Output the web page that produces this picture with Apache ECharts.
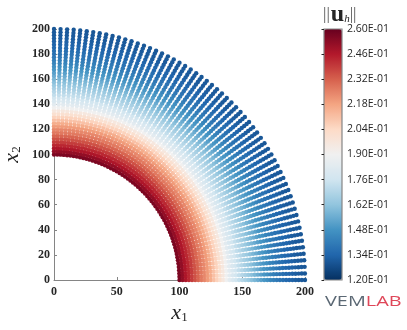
<!DOCTYPE html>
<html><head><meta charset="utf-8">
<style>html,body{margin:0;padding:0;background:#fff}#c{width:407px;height:330px}</style>
<script src="https://cdn.jsdelivr.net/npm/echarts@6/dist/echarts.min.js"></script>
</head><body><div id="c"></div>
<script>
const ringRadii = [100,102.5,105,107.5,110,112.5,115,117.5,120,122.5,125,127.5,130,132.5,135,137.5,140,142.5,145,147.5,150,152.5,155,157.5,160,162.5,165,167.5,170,172.5,175,177.5,180,182.5,185,187.5,190,192.5,195,197.5,200];
const ringValues = [0.256,0.252,0.247,0.243,0.239,0.235,0.231,0.227,0.224,0.220,0.216,0.211,0.206,0.201,0.196,0.190,0.184,0.180,0.177,0.173,0.170,0.167,0.164,0.161,0.158,0.155,0.152,0.149,0.147,0.144,0.142,0.140,0.138,0.137,0.135,0.134,0.133,0.132,0.131,0.131,0.130];
const spokeAngles = [0,1.5,3,4.5,6,7.5,9,10.5,12,13.5,15,16.5,18,19.5,21,22.5,24,25.5,27,28.5,30,31.5,33,34.5,36,37.5,39,40.5,42,43.5,45,46.5,48,49.5,51,52.5,54,55.5,57,58.5,60,61.5,63,64.5,66,67.5,69,70.5,72,73.5,75,76.5,78,79.5,81,82.5,84,85.5,87,88.5,90];
const yTickStep = 20;
const xTickStep = 50;
const colorbarTicks = [0.12,0.134,0.148,0.162,0.176,0.19,0.204,0.218,0.232,0.246,0.26];
const colorbarLabels = ['1.20E-01','1.34E-01','1.48E-01','1.62E-01','1.76E-01','1.90E-01','2.04E-01','2.18E-01','2.32E-01','2.46E-01','2.60E-01'];
const palette = ['#053061','#2166ac','#4393c3','#92c5de','#d1e5f0','#f0f0f0','#fddbc7','#f4a582','#d6604d','#b2182b','#67001f'];

const points = [];
ringRadii.forEach((r,i)=>spokeAngles.forEach(a=>{
  const t=a*Math.PI/180;
  points.push([r*Math.cos(t),r*Math.sin(t),ringValues[i]]);
}));

const gray='#858585', ink='#262626', serif='"Liberation Serif"';
const nameRich={x:{fontFamily:serif,fontStyle:'italic',fontSize:22,color:ink},s:{fontFamily:serif,fontSize:13,color:ink,padding:[9,0,0,0]}};
const chart=echarts.init(document.getElementById('c'),null,{renderer:'canvas'});
chart.setOption({
  animation:false,
  grid:[
    {left:54,top:29,width:251,height:251,show:false,outerBoundsMode:'none'},
    {left:324,top:29,width:18,height:251,show:true,z:10,backgroundColor:'transparent',borderColor:gray,borderWidth:1.2,outerBoundsMode:'none'}
  ],
  xAxis:[
    {gridIndex:0,type:'value',min:0,max:200,interval:xTickStep,splitLine:{show:false},
     axisLine:{onZero:false,lineStyle:{color:gray,width:1}},
     axisTick:{inside:true,length:3,lineStyle:{color:gray}},
     axisLabel:{fontFamily:serif,fontWeight:'bold',fontSize:12,color:ink,margin:6,hideOverlap:false,showMinLabel:true,showMaxLabel:true},
     name:'{x|x}{s|1}',nameLocation:'middle',nameGap:22,nameMoveOverlap:false,
     nameTextStyle:{rich:nameRich}},
    {gridIndex:1,type:'value',min:0,max:1,show:false}
  ],
  yAxis:[
    {gridIndex:0,type:'value',min:0,max:200,interval:yTickStep,splitLine:{show:false},
     axisLine:{onZero:false,lineStyle:{color:gray,width:1}},
     axisTick:{inside:true,length:3,lineStyle:{color:gray}},
     axisLabel:{fontFamily:serif,fontWeight:'bold',fontSize:12,color:ink,margin:4,hideOverlap:false,showMinLabel:true,showMaxLabel:true},
     name:'{x|x}{s|2}',nameLocation:'middle',nameGap:31,nameRotate:90,nameMoveOverlap:false,
     nameTextStyle:{rich:nameRich}},
    {gridIndex:1,type:'value',position:'right',min:0.12,max:0.26,z:11,splitLine:{show:false},
     axisLine:{show:false},
     axisTick:{show:true,inside:true,length:2.5,customValues:colorbarTicks,lineStyle:{color:ink}},
     axisLabel:{show:true,inside:false,margin:5,fontFamily:'"Open Sans"',fontSize:10.5,color:ink,
       customValues:colorbarTicks,formatter:v=>colorbarLabels[colorbarTicks.findIndex(t=>Math.abs(t-v)<1e-6)],
       hideOverlap:false}}
  ],
  visualMap:{type:'continuous',min:0.12,max:0.26,dimension:2,seriesIndex:0,left:324,top:29,itemWidth:18,itemHeight:251,padding:0,
    text:null,showLabel:false,calculable:false,hoverLink:false,z:1,inRange:{color:palette}},
  series:[{type:'scatter',xAxisIndex:0,yAxisIndex:0,data:points,symbol:'circle',symbolSize:4.4,clip:false,z:3,progressive:0,silent:true,
    itemStyle:{opacity:1}}],
  graphic:[
    {type:'text',x:323,y:3,style:{text:'{b|||}{u|u}{h|h}{b|||}',rich:{b:{fontFamily:serif,fontSize:17,fill:'#555',padding:[0,1,0,0]},u:{fontFamily:serif,fontWeight:'bold',fontSize:24,fill:ink},h:{fontFamily:serif,fontStyle:'italic',fontSize:11,fill:ink,padding:[8,0,0,0]}}}},
    {type:'text',x:325,y:295,scaleX:1.42,style:{text:'{a|VEM}{b|LAB}',rich:{a:{fontFamily:'"Open Sans"',fontSize:14,fill:'#5b6874'},b:{fontFamily:'"Open Sans"',fontSize:14,fill:'#df4759'}}}}
  ]
});
</script></body></html>
